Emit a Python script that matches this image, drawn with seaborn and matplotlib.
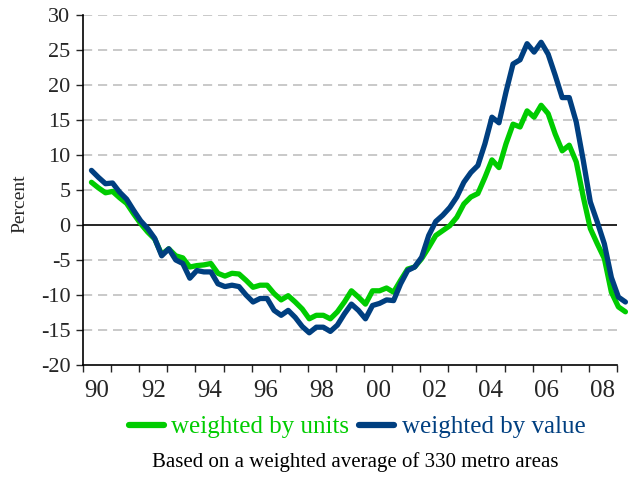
import numpy as np
import pandas as pd
import matplotlib
matplotlib.use("Agg")
import matplotlib.pyplot as plt
import seaborn as sns

# Quarterly % change, 1990 to 2009
units = [6.1, 5.3, 4.6, 4.8, 3.9, 3.1, 1.6, 0.2, -1.0, -2.0, -4.2, -3.4, -4.4, -4.7,
         -6.0, -5.8, -5.7, -5.5, -6.9, -7.3, -6.9, -7.0, -7.9, -8.9, -8.6, -8.6,
         -9.8, -10.7, -10.1, -11.0, -12.0, -13.4, -12.9, -12.9, -13.4, -12.4, -11.0,
         -9.4, -10.3, -11.3, -9.4, -9.4, -9.0, -9.6, -7.9, -6.3, -6.0, -4.8, -3.2,
         -1.5, -0.8, -0.1, 1.1, 3.0, 4.0, 4.5, 6.8, 9.3, 8.2, 11.6, 14.4, 14.0, 16.3,
         15.4, 17.1, 15.9, 13.0, 10.6, 11.4, 9.0, 4.0, -0.5, -2.7, -4.8, -9.6, -11.7,
         -12.4]
value = [7.8, 6.8, 5.9, 6.0, 4.7, 3.7, 2.1, 0.6, -0.5, -1.9, -4.4, -3.4, -5.0, -5.5,
         -7.6, -6.5, -6.7, -6.7, -8.4, -8.8, -8.6, -8.8, -10.0, -11.0, -10.5, -10.5,
         -12.2, -12.9, -12.2, -13.2, -14.5, -15.4, -14.6, -14.6, -15.2, -14.3, -12.7,
         -11.3, -12.2, -13.4, -11.5, -11.2, -10.7, -10.8, -8.4, -6.5, -6.0, -4.6, -1.5,
         0.5, 1.4, 2.5, 4.0, 6.1, 7.5, 8.5, 11.6, 15.4, 14.6, 19.0, 23.0, 23.6, 25.9,
         24.7, 26.1, 24.4, 21.4, 18.2, 18.2, 14.7, 9.2, 3.3, 0.4, -2.7, -7.5, -10.3,
         -11.0]
t = 1990.3 + 0.25 * np.arange(len(units))

year_labels = ["90", "92", "94", "96", "98", "00", "02", "04", "06", "08"]
series_names = ["weighted by units", "weighted by value"]
colors = ["#00cc00", "#003f80"]

df = pd.DataFrame({"t": np.concatenate([t, t]),
                   "pct": units + value,
                   "series": [series_names[0]] * len(units) + [series_names[1]] * len(value)})

sns.set_theme(style="white")
plt.rcParams["font.family"] = ["Liberation Serif", "DejaVu Serif"]
plt.rcParams["axes.unicode_minus"] = False

fig = plt.figure(figsize=(6.28, 4.79), dpi=100)
ax = fig.add_axes([0.1322, 0.238, 0.8503, 0.7307])

# gridlines and zero line
for yv in [-15, -10, -5, 5, 10, 15, 20, 25, 30]:
    ax.axhline(yv, color="#c0c0c0", lw=1.2, ls=(0, (5.5, 3.5)), zorder=0)
ax.axhline(0, color="black", lw=1.2, zorder=1)

sns.lineplot(data=df, x="t", y="pct", hue="series", palette=colors,
             linewidth=3.8, legend=False, ax=ax)
for line in ax.lines[-2:]:
    line.set_clip_on(False)

ax.set_xlim(1990, 2009)
ax.set_ylim(-20, 30)
ax.set_yticks(range(-20, 31, 5))
ax.tick_params(axis="y", direction="out", length=5, width=1, labelsize=16, pad=4, left=True)

ax.set_xticks(range(1990, 2010))
ax.set_xticklabels([])
ax.set_xticks([y + 0.5 for y in range(1990, 2009, 2)], minor=True)
ax.set_xticklabels(year_labels, minor=True)
ax.tick_params(axis="x", which="major", direction="out", length=5, width=1, bottom=True)
ax.tick_params(axis="x", which="minor", length=0, labelsize=18, pad=11)

for s in ["top", "right"]:
    ax.spines[s].set_visible(False)
for s in ["left", "bottom"]:
    ax.spines[s].set_color("black")
    ax.spines[s].set_linewidth(1.2)

ax.set_xlabel("")
ax.set_ylabel("Percent", fontsize=14)
ax.yaxis.set_label_coords(-0.103, 0.46)

handles = [plt.Line2D([], [], color=c, lw=4.5) for c in colors]
leg = fig.legend(handles, series_names, loc="center", bbox_to_anchor=(0.569, 1 - 427 / 479),
                 ncol=2, frameon=False, fontsize=18, handlelength=1.4,
                 handletextpad=0.3, columnspacing=0.4)
for txt, c in zip(leg.get_texts(), colors):
    txt.set_color(c)

fig.text(0.565, 1 - 462 / 479, "Based on a weighted average of 330 metro areas",
         ha="center", va="center", fontsize=15, color="black")

fig.savefig("out.png", dpi=100)
